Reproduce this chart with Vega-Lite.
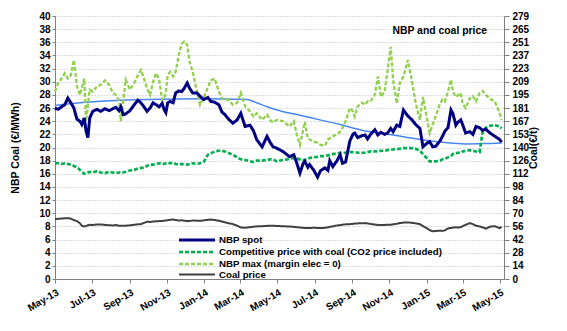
{
  "$schema": "https://vega.github.io/schema/vega-lite/v6.json",
  "width": 449,
  "height": 263,
  "autosize": "none",
  "padding": {"left": 55, "top": 16, "right": 63, "bottom": 52},
  "background": "white",
  "title": {"text": "NBP and coal price", "anchor": "end", "frame": "group", "offset": -25, "dx": -17, "fontSize": 10.4, "fontWeight": "bold", "font": "Liberation Sans", "color": "#000000"},
  "config": {
    "font": "Liberation Sans",
    "view": {"stroke": null},
    "axis": {"labelFont": "Liberation Sans", "labelFontWeight": "bold", "labelFontSize": 10, "labelColor": "#000000", "titleFont": "Liberation Sans", "titleFontWeight": "bold", "titleFontSize": 10.5, "titleColor": "#000000", "domainColor": "#808080", "tickColor": "#808080", "grid": false}
  },
  "datasets": {
    "prices": [
      {"date":"2013-05-01","spot":26.0,"comp":17.6,"max":28.5,"coal":63.5},
      {"date":"2013-05-06","spot":25.8,"comp":17.6,"max":29.8,"coal":63.8},
      {"date":"2013-05-12","spot":26.2,"comp":17.5,"max":30.5,"coal":64.2},
      {"date":"2013-05-17","spot":26.5,"comp":17.6,"max":31.3,"coal":64.4},
      {"date":"2013-05-22","spot":27.5,"comp":17.5,"max":30.5,"coal":64.6},
      {"date":"2013-05-27","spot":26.8,"comp":17.4,"max":31.0,"coal":64.0},
      {"date":"2013-06-01","spot":26.0,"comp":17.2,"max":33.3,"coal":62.5},
      {"date":"2013-06-06","spot":24.3,"comp":17.0,"max":29.3,"coal":61.5},
      {"date":"2013-06-11","spot":24.0,"comp":16.6,"max":28.0,"coal":59.0},
      {"date":"2013-06-14","spot":23.5,"comp":16.3,"max":29.0,"coal":56.5},
      {"date":"2013-06-18","spot":24.5,"comp":16.0,"max":30.5,"coal":55.8},
      {"date":"2013-06-21","spot":22.5,"comp":16.1,"max":24.0,"coal":56.2},
      {"date":"2013-06-24","spot":21.5,"comp":16.2,"max":26.5,"coal":57.0},
      {"date":"2013-06-27","spot":24.5,"comp":16.3,"max":28.8,"coal":57.5},
      {"date":"2013-07-02","spot":25.5,"comp":16.2,"max":28.5,"coal":57.3},
      {"date":"2013-07-09","spot":25.8,"comp":16.4,"max":29.3,"coal":57.8},
      {"date":"2013-07-15","spot":25.5,"comp":16.2,"max":29.5,"coal":57.9},
      {"date":"2013-07-22","spot":25.9,"comp":16.1,"max":30.2,"coal":57.4},
      {"date":"2013-07-29","spot":25.6,"comp":16.3,"max":29.5,"coal":57.0},
      {"date":"2013-08-04","spot":25.9,"comp":16.2,"max":28.3,"coal":56.8},
      {"date":"2013-08-09","spot":26.1,"comp":16.1,"max":28.0,"coal":57.2},
      {"date":"2013-08-14","spot":25.6,"comp":16.2,"max":27.2,"coal":56.6},
      {"date":"2013-08-17","spot":26.2,"comp":16.2,"max":24.0,"coal":56.5},
      {"date":"2013-08-21","spot":25.0,"comp":16.2,"max":27.0,"coal":56.4},
      {"date":"2013-08-25","spot":25.1,"comp":16.3,"max":30.3,"coal":56.5},
      {"date":"2013-09-01","spot":25.6,"comp":16.5,"max":28.8,"coal":57.0},
      {"date":"2013-09-08","spot":26.5,"comp":16.6,"max":29.8,"coal":57.5},
      {"date":"2013-09-14","spot":27.2,"comp":16.8,"max":31.0,"coal":58.0},
      {"date":"2013-09-19","spot":26.8,"comp":16.9,"max":31.8,"coal":58.2},
      {"date":"2013-09-24","spot":26.2,"comp":16.9,"max":30.5,"coal":59.5},
      {"date":"2013-09-29","spot":25.5,"comp":17.2,"max":29.0,"coal":60.7},
      {"date":"2013-10-04","spot":26.0,"comp":17.4,"max":28.0,"coal":60.5},
      {"date":"2013-10-09","spot":26.8,"comp":17.4,"max":30.0,"coal":61.0},
      {"date":"2013-10-14","spot":26.5,"comp":17.5,"max":31.3,"coal":61.2},
      {"date":"2013-10-19","spot":26.2,"comp":17.6,"max":30.3,"coal":61.4},
      {"date":"2013-10-24","spot":26.7,"comp":17.5,"max":27.2,"coal":61.5},
      {"date":"2013-10-27","spot":25.8,"comp":17.5,"max":27.4,"coal":61.8},
      {"date":"2013-10-30","spot":25.3,"comp":17.6,"max":28.5,"coal":62.0},
      {"date":"2013-11-02","spot":26.8,"comp":17.7,"max":31.0,"coal":62.4},
      {"date":"2013-11-06","spot":27.0,"comp":17.6,"max":31.5,"coal":62.8},
      {"date":"2013-11-11","spot":26.8,"comp":17.7,"max":30.8,"coal":63.1},
      {"date":"2013-11-15","spot":28.3,"comp":17.5,"max":31.5,"coal":62.6},
      {"date":"2013-11-20","spot":28.6,"comp":17.4,"max":34.0,"coal":62.0},
      {"date":"2013-11-25","spot":28.5,"comp":17.5,"max":35.8,"coal":62.3},
      {"date":"2013-11-29","spot":29.0,"comp":17.4,"max":36.1,"coal":61.8},
      {"date":"2013-12-04","spot":29.8,"comp":17.4,"max":35.6,"coal":61.4},
      {"date":"2013-12-08","spot":29.0,"comp":17.5,"max":33.0,"coal":61.6},
      {"date":"2013-12-13","spot":28.3,"comp":17.6,"max":31.5,"coal":62.0},
      {"date":"2013-12-20","spot":28.3,"comp":17.5,"max":28.5,"coal":61.9},
      {"date":"2013-12-25","spot":27.8,"comp":17.6,"max":26.5,"coal":61.7},
      {"date":"2013-12-31","spot":27.3,"comp":17.8,"max":27.5,"coal":62.2},
      {"date":"2014-01-07","spot":27.6,"comp":18.9,"max":29.2,"coal":62.8},
      {"date":"2014-01-12","spot":27.0,"comp":19.1,"max":30.2,"coal":63.0},
      {"date":"2014-01-18","spot":26.9,"comp":19.4,"max":30.5,"coal":62.6},
      {"date":"2014-01-25","spot":26.5,"comp":19.5,"max":28.5,"coal":61.8},
      {"date":"2014-01-30","spot":25.4,"comp":19.5,"max":27.5,"coal":61.0},
      {"date":"2014-02-04","spot":25.0,"comp":19.4,"max":27.2,"coal":60.2},
      {"date":"2014-02-09","spot":24.4,"comp":19.2,"max":27.3,"coal":59.3},
      {"date":"2014-02-17","spot":23.7,"comp":18.9,"max":26.5,"coal":58.2},
      {"date":"2014-02-24","spot":24.2,"comp":18.5,"max":26.8,"coal":56.5},
      {"date":"2014-03-02","spot":25.2,"comp":18.2,"max":28.3,"coal":54.6},
      {"date":"2014-03-09","spot":23.2,"comp":18.1,"max":26.3,"coal":54.4},
      {"date":"2014-03-17","spot":23.4,"comp":17.9,"max":25.5,"coal":55.0},
      {"date":"2014-03-23","spot":22.5,"comp":17.8,"max":24.7,"coal":55.5},
      {"date":"2014-03-28","spot":21.2,"comp":18.0,"max":25.2,"coal":55.8},
      {"date":"2014-04-06","spot":20.1,"comp":18.0,"max":24.2,"coal":56.0},
      {"date":"2014-04-14","spot":21.7,"comp":18.1,"max":25.0,"coal":56.3},
      {"date":"2014-04-19","spot":20.8,"comp":18.2,"max":24.2,"coal":56.6},
      {"date":"2014-04-24","spot":20.1,"comp":18.2,"max":23.8,"coal":56.5},
      {"date":"2014-04-30","spot":19.9,"comp":17.9,"max":24.2,"coal":56.2},
      {"date":"2014-05-10","spot":19.4,"comp":18.1,"max":24.0,"coal":56.0},
      {"date":"2014-05-17","spot":18.9,"comp":18.2,"max":23.5,"coal":55.8},
      {"date":"2014-05-21","spot":18.6,"comp":18.3,"max":23.2,"coal":55.8},
      {"date":"2014-05-28","spot":18.9,"comp":18.4,"max":24.0,"coal":55.3},
      {"date":"2014-06-02","spot":17.6,"comp":18.3,"max":21.9,"coal":55.0},
      {"date":"2014-06-07","spot":16.1,"comp":18.2,"max":20.4,"coal":54.6},
      {"date":"2014-06-12","spot":17.5,"comp":18.1,"max":22.5,"coal":54.3},
      {"date":"2014-06-15","spot":17.9,"comp":18.1,"max":23.9,"coal":54.1},
      {"date":"2014-06-20","spot":17.0,"comp":18.3,"max":21.4,"coal":54.0},
      {"date":"2014-06-23","spot":17.4,"comp":18.4,"max":21.2,"coal":54.1},
      {"date":"2014-06-30","spot":16.5,"comp":18.5,"max":20.9,"coal":54.3},
      {"date":"2014-07-06","spot":15.5,"comp":18.6,"max":20.7,"coal":54.2},
      {"date":"2014-07-11","spot":16.5,"comp":18.7,"max":20.4,"coal":54.0},
      {"date":"2014-07-18","spot":16.9,"comp":18.7,"max":20.3,"coal":54.3},
      {"date":"2014-07-23","spot":16.5,"comp":18.8,"max":21.2,"coal":54.8},
      {"date":"2014-07-26","spot":18.0,"comp":18.9,"max":21.4,"coal":55.3},
      {"date":"2014-07-31","spot":17.1,"comp":19.0,"max":21.7,"coal":55.8},
      {"date":"2014-08-07","spot":18.0,"comp":19.1,"max":22.0,"coal":56.8},
      {"date":"2014-08-12","spot":18.9,"comp":19.2,"max":22.4,"coal":57.2},
      {"date":"2014-08-16","spot":17.6,"comp":19.2,"max":23.0,"coal":57.6},
      {"date":"2014-08-21","spot":17.8,"comp":19.2,"max":24.0,"coal":58.0},
      {"date":"2014-08-28","spot":21.0,"comp":19.3,"max":26.0,"coal":58.2},
      {"date":"2014-09-02","spot":22.0,"comp":19.3,"max":25.5,"coal":58.5},
      {"date":"2014-09-05","spot":22.2,"comp":19.3,"max":24.7,"coal":58.8},
      {"date":"2014-09-10","spot":21.5,"comp":19.2,"max":26.3,"coal":59.0},
      {"date":"2014-09-17","spot":21.8,"comp":19.2,"max":26.8,"coal":59.2},
      {"date":"2014-09-22","spot":21.9,"comp":19.2,"max":26.5,"coal":59.3},
      {"date":"2014-09-26","spot":21.3,"comp":19.3,"max":27.0,"coal":59.0},
      {"date":"2014-10-01","spot":22.0,"comp":19.4,"max":27.0,"coal":58.4},
      {"date":"2014-10-08","spot":22.7,"comp":19.4,"max":28.0,"coal":57.8},
      {"date":"2014-10-13","spot":21.9,"comp":19.4,"max":30.8,"coal":57.3},
      {"date":"2014-10-18","spot":22.3,"comp":19.5,"max":27.7,"coal":57.2},
      {"date":"2014-10-24","spot":22.0,"comp":19.5,"max":28.5,"coal":57.4},
      {"date":"2014-10-29","spot":22.2,"comp":19.6,"max":31.8,"coal":57.5},
      {"date":"2014-11-03","spot":22.9,"comp":19.7,"max":35.3,"coal":57.5},
      {"date":"2014-11-07","spot":22.4,"comp":19.7,"max":30.3,"coal":58.0},
      {"date":"2014-11-13","spot":23.4,"comp":19.8,"max":26.7,"coal":58.6},
      {"date":"2014-11-18","spot":23.2,"comp":19.8,"max":29.8,"coal":59.3},
      {"date":"2014-11-24","spot":25.7,"comp":19.9,"max":30.8,"coal":59.8},
      {"date":"2014-12-01","spot":24.8,"comp":19.9,"max":33.3,"coal":60.0},
      {"date":"2014-12-08","spot":24.2,"comp":19.9,"max":30.0,"coal":59.6},
      {"date":"2014-12-14","spot":23.5,"comp":19.8,"max":26.8,"coal":59.0},
      {"date":"2014-12-21","spot":22.9,"comp":19.5,"max":24.2,"coal":58.2},
      {"date":"2014-12-26","spot":20.1,"comp":19.0,"max":27.7,"coal":56.0},
      {"date":"2015-01-01","spot":20.6,"comp":18.4,"max":24.7,"coal":54.1},
      {"date":"2015-01-06","spot":20.9,"comp":17.9,"max":22.2,"coal":51.8},
      {"date":"2015-01-11","spot":20.1,"comp":17.9,"max":23.5,"coal":50.6},
      {"date":"2015-01-16","spot":20.2,"comp":17.9,"max":24.8,"coal":50.9},
      {"date":"2015-01-23","spot":21.0,"comp":18.0,"max":26.7,"coal":51.3},
      {"date":"2015-01-27","spot":21.7,"comp":18.2,"max":27.3,"coal":51.0},
      {"date":"2015-01-31","spot":22.5,"comp":18.3,"max":27.0,"coal":51.6},
      {"date":"2015-02-05","spot":23.0,"comp":18.5,"max":28.5,"coal":53.5},
      {"date":"2015-02-10","spot":25.7,"comp":18.7,"max":30.3,"coal":54.2},
      {"date":"2015-02-13","spot":25.2,"comp":19.0,"max":28.5,"coal":54.5},
      {"date":"2015-02-18","spot":23.4,"comp":19.1,"max":27.7,"coal":54.8},
      {"date":"2015-02-21","spot":23.8,"comp":19.2,"max":27.9,"coal":54.6},
      {"date":"2015-02-26","spot":24.2,"comp":19.2,"max":28.3,"coal":55.0},
      {"date":"2015-03-01","spot":23.5,"comp":19.4,"max":26.7,"coal":56.0},
      {"date":"2015-03-06","spot":22.2,"comp":19.5,"max":26.0,"coal":57.5},
      {"date":"2015-03-13","spot":22.4,"comp":19.6,"max":27.5,"coal":59.3},
      {"date":"2015-03-18","spot":22.0,"comp":19.5,"max":27.8,"coal":58.2},
      {"date":"2015-03-23","spot":23.2,"comp":19.4,"max":27.0,"coal":56.5},
      {"date":"2015-03-29","spot":23.0,"comp":19.3,"max":28.3,"coal":55.8},
      {"date":"2015-04-03","spot":22.6,"comp":22.5,"max":28.6,"coal":54.8},
      {"date":"2015-04-08","spot":22.8,"comp":23.0,"max":28.0,"coal":53.4},
      {"date":"2015-04-15","spot":22.2,"comp":23.3,"max":27.4,"coal":55.5},
      {"date":"2015-04-23","spot":21.7,"comp":23.4,"max":27.0,"coal":56.0},
      {"date":"2015-05-01","spot":21.2,"comp":23.2,"max":25.2,"coal":54.0},
      {"date":"2015-05-04","spot":20.8,"comp":22.9,"max":24.2,"coal":55.5}
    ],
    "trend": [
      {"date":"2013-05-01","value":26.4},
      {"date":"2013-06-11","value":26.8},
      {"date":"2013-07-30","value":27.1},
      {"date":"2013-10-04","value":27.3},
      {"date":"2013-12-25","value":27.4},
      {"date":"2014-03-12","value":27.3},
      {"date":"2014-03-28","value":26.8},
      {"date":"2014-04-14","value":26.2},
      {"date":"2014-05-05","value":25.6},
      {"date":"2014-06-07","value":24.9},
      {"date":"2014-07-10","value":24.2},
      {"date":"2014-08-12","value":23.5},
      {"date":"2014-09-18","value":22.6},
      {"date":"2014-10-24","value":22.1},
      {"date":"2014-11-26","value":21.6},
      {"date":"2014-12-29","value":21.1},
      {"date":"2015-01-31","value":20.75},
      {"date":"2015-03-05","value":20.55},
      {"date":"2015-04-06","value":20.6},
      {"date":"2015-05-04","value":20.7}
    ]
  },
  "layer": [
    {
      "layer": [
        {
          "data": {"name": "trend"},
          "mark": {"type": "line", "color": "#4A86F0", "strokeWidth": 1.5, "interpolate": "monotone"},
          "encoding": {
            "x": {"field": "date", "type": "temporal", "scale": {"domain": [{"year": 2013, "month": 5, "date": 1}, {"year": 2015, "month": 5, "date": 8}]}, "axis": {"tickCount": {"interval": "month", "step": 2}, "format": "%b-%y", "labelAngle": -30, "labelAlign": "right", "labelBaseline": "top", "tickSize": 4, "labelPadding": 4, "title": null, "grid": false}},
            "y": {"field": "value", "type": "quantitative", "scale": {"domain": [0, 40]}, "axis": {"values": [0,2,4,6,8,10,12,14,16,18,20,22,24,26,28,30,32,34,36,38,40], "grid": true, "gridDash": [1, 2], "gridColor": "#bdbdbd", "tickSize": 3, "labelPadding": 2, "title": "NBP Coal (€/MWh)", "titlePadding": 18}}
          }
        },
        {
          "data": {"name": "prices"},
          "transform": [{"fold": ["max", "comp", "spot"], "as": ["series", "value"]}],
          "mark": {"type": "line"},
          "encoding": {
            "x": {"field": "date", "type": "temporal", "scale": {"domain": [{"year": 2013, "month": 5, "date": 1}, {"year": 2015, "month": 5, "date": 8}]}, "axis": {"tickCount": {"interval": "month", "step": 2}, "format": "%b-%y", "labelAngle": -30, "labelAlign": "right", "labelBaseline": "top", "tickSize": 4, "labelPadding": 4, "title": null, "grid": false}},
            "y": {"field": "value", "type": "quantitative", "scale": {"domain": [0, 40]}, "axis": {"values": [0,2,4,6,8,10,12,14,16,18,20,22,24,26,28,30,32,34,36,38,40], "grid": true, "gridDash": [1, 2], "gridColor": "#bdbdbd", "tickSize": 3, "labelPadding": 2, "title": "NBP Coal (€/MWh)", "titlePadding": 18}},
            "color": {"field": "series", "type": "nominal", "scale": {"domain": ["spot", "comp", "max", "coal"], "range": ["#000080", "#00B050", "#92D050", "#404040"]}, "legend": {"orient": "none", "legendX": 136, "legendY": 218, "title": null, "symbolType": "M-4,0H4", "symbolSize": 81, "labelFont": "Liberation Sans", "labelFontSize": 9.7, "labelFontWeight": "bold", "labelColor": "#000000", "labelLimit": 0, "labelOffset": 16, "rowPadding": 0, "padding": 0, "labelExpr": "datum.label == 'spot' ? 'NBP spot' : datum.label == 'comp' ? 'Competitive price with coal (CO2 price included)' : datum.label == 'max' ? 'NBP max (margin elec = 0)' : 'Coal price'"}},
            "strokeDash": {"field": "series", "type": "nominal", "scale": {"domain": ["spot", "comp", "max", "coal"], "range": [[1, 0], [4, 2], [4, 2], [1, 0]]}},
            "strokeWidth": {"field": "series", "type": "nominal", "scale": {"domain": ["spot", "comp", "max", "coal"], "range": [3, 2, 2, 1.2]}}
          }
        }
      ]
    },
    {
      "data": {"name": "prices"},
      "transform": [{"fold": ["coal"], "as": ["series", "value"]}],
      "mark": {"type": "line"},
      "encoding": {
        "x": {"field": "date", "type": "temporal", "scale": {"domain": [{"year": 2013, "month": 5, "date": 1}, {"year": 2015, "month": 5, "date": 8}]}, "axis": {"tickCount": {"interval": "month", "step": 2}, "format": "%b-%y", "labelAngle": -30, "labelAlign": "right", "labelBaseline": "top", "tickSize": 4, "labelPadding": 4, "title": null, "grid": false}},
        "y": {"field": "value", "type": "quantitative", "scale": {"domain": [0, 279]}, "axis": {"orient": "right", "values": [0,13.95,27.9,41.85,55.8,69.75,83.7,97.65,111.6,125.55,139.5,153.45,167.4,181.35,195.3,209.25,223.2,237.15,251.1,265.05,279], "format": ".0f", "grid": false, "tickSize": 5, "labelPadding": 3, "title": "Coal(€/t)", "titleAngle": -90, "titlePadding": 10}},
        "color": {"field": "series", "type": "nominal", "scale": {"domain": ["spot", "comp", "max", "coal"], "range": ["#000080", "#00B050", "#92D050", "#404040"]}},
        "strokeDash": {"field": "series", "type": "nominal", "scale": {"domain": ["spot", "comp", "max", "coal"], "range": [[1, 0], [4, 2], [4, 2], [1, 0]]}},
        "strokeWidth": {"field": "series", "type": "nominal", "scale": {"domain": ["spot", "comp", "max", "coal"], "range": [3, 2, 2, 1.2]}}
      }
    }
  ],
  "resolve": {"scale": {"y": "independent"}}
}
